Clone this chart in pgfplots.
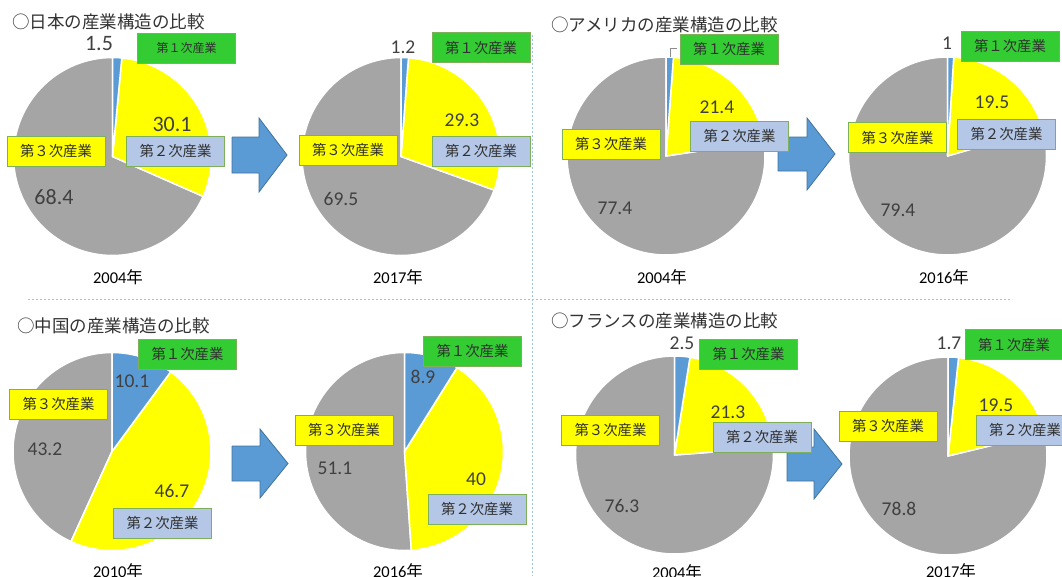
\documentclass[border=0pt]{standalone}
\usepackage{pgfplots}
\pgfplotsset{compat=1.18}
\usepackage{fontspec}
\setmainfont{Carlito}
\newfontfamily\jp{Noto Sans CJK JP}
\definecolor{slicegray}{HTML}{A5A5A5}
\definecolor{sliceyellow}{HTML}{FFFF00}
\definecolor{sliceblue}{HTML}{5B9BD5}
\definecolor{boxgreen}{HTML}{33CC33}
\definecolor{boxblue}{HTML}{B4C7E7}
\definecolor{boxborder}{HTML}{7EB05C}
\definecolor{arrowfill}{HTML}{5B9BD5}
\definecolor{arrowdraw}{HTML}{41719C}
\definecolor{sepline}{HTML}{9DC3E6}
\definecolor{valtext}{HTML}{404040}
\definecolor{labtext}{HTML}{303030}

% pie: center x, center y (pixels), primary, secondary, tertiary
\newcommand{\pie}[5]{%
  \pgfmathsetmacro\tot{#3+#4+#5}%
  \pgfmathsetmacro\aB{90-360*(#3/\tot)}%
  \pgfmathsetmacro\aC{\aB-360*(#4/\tot)}%
  \edef\doit{%
    \noexpand\addplot[fill=slicegray, draw=white, line width=1.5pt, line join=round, domain=-270:\aC, samples=90]
      ({#1+99*cos(x)},{#2-99*sin(x)}) -- (axis cs:#1,#2) -- cycle;
    \noexpand\addplot[fill=sliceyellow, draw=white, line width=1.5pt, line join=round, domain=\aC:\aB, samples=60]
      ({#1+99*cos(x)},{#2-99*sin(x)}) -- (axis cs:#1,#2) -- cycle;
    \noexpand\addplot[fill=sliceblue, draw=white, line width=1.5pt, line join=round, domain=\aB:90, samples=30]
      ({#1+99*cos(x)},{#2-99*sin(x)}) -- (axis cs:#1,#2) -- cycle;
  }\doit}

\tikzset{
  box/.style={draw=boxborder, line width=1pt, minimum width=98pt, minimum height=30pt,
    inner sep=0pt, text=labtext, font={\jp\fontsize{14.4}{16}\selectfont}},
  vlab/.style={inner sep=0pt, text=valtext, font={\fontsize{19.5}{22}\selectfont}},
  vlabbig/.style={inner sep=0pt, text=valtext, font={\fontsize{22}{24}\selectfont}},
  ttl/.style={inner sep=0pt, anchor=west, text=black!80, font={\jp\fontsize{17.5}{20}\selectfont}},
  yr/.style={inner sep=0pt, text=black, font={\fontsize{16.5}{18}\selectfont}},
}

\begin{document}
\begin{tikzpicture}
\useasboundingbox (0,0) rectangle (1062pt,576pt);
\begin{axis}[at={(0pt,576pt)}, anchor=north west, x=1pt, y=1pt,
  xmin=0, xmax=1062, ymin=0, ymax=576, y dir=reverse,
  hide axis, clip=false]

% separators
\addplot[draw=sepline, line width=0.8pt, dash pattern=on 2pt off 2pt] coordinates {(532,35) (532,576)};
\addplot[draw=sepline, line width=0.8pt, dash pattern=on 2pt off 2pt] coordinates {(28,299) (1012,299)};

% pies
\pie{112.5}{156.5}{1.5}{30.1}{68.4}
\pie{401}{156.5}{1.2}{29.3}{69.5}
\pie{666}{156}{1.2}{21.4}{77.4}
\pie{947.5}{156}{1}{19.5}{79.4}
\pie{112}{451.5}{10.1}{46.7}{43.2}
\pie{404.5}{451.5}{8.9}{40}{51.1}
\pie{674.5}{455}{2.5}{21.3}{76.3}
\pie{948}{456}{1.7}{19.5}{78.8}

% arrows
\addplot[fill=arrowfill, draw=arrowdraw, line width=0.8pt] coordinates {(232,137) (259,137) (259,118) (287,155) (259,192) (259,173) (232,173) (232,137)};
\addplot[fill=arrowfill, draw=arrowdraw, line width=0.8pt] coordinates {(778,137) (807,137) (807,118) (835,154) (807,190) (807,171) (778,171) (778,137)};
\addplot[fill=arrowfill, draw=arrowdraw, line width=0.8pt] coordinates {(232,446) (260,446) (260,429) (288,463.5) (260,498) (260,481) (232,481) (232,446)};
\addplot[fill=arrowfill, draw=arrowdraw, line width=0.8pt] coordinates {(787,447) (814,447) (814,429) (842,464) (814,499) (814,481) (787,481) (787,447)};

% leader line (USA 2004)
\addplot[draw=black!45, line width=0.8pt] coordinates {(670,57) (670,48) (677,48)};

% titles
\node[ttl] at (axis cs:12,22) {○日本の産業構造の比較};
\node[ttl] at (axis cs:551,25) {○アメリカの産業構造の比較};
\node[ttl] at (axis cs:17,326) {○中国の産業構造の比較};
\node[ttl] at (axis cs:551,321) {○フランスの産業構造の比較};

% Japan 2004
\node[box, fill=boxgreen, font={\jp\fontsize{12}{14}\selectfont}] at (axis cs:186.5,48) {第１次産業};
\node[box, fill=sliceyellow] at (axis cs:56,151) {第３次産業};
\node[box, fill=boxblue] at (axis cs:175.5,151) {第２次産業};
\node[vlabbig] at (axis cs:99,44) {1.5};
\node[vlabbig] at (axis cs:172,124) {30.1};
\node[vlabbig] at (axis cs:54,197) {68.4};
\node[yr] at (axis cs:118,277) {2004{\jp 年}};

% Japan 2017
\node[box, fill=boxgreen] at (axis cs:481,47.5) {第１次産業};
\node[box, fill=sliceyellow] at (axis cs:348,150) {第３次産業};
\node[box, fill=boxblue] at (axis cs:481,151) {第２次産業};
\node[vlab] at (axis cs:403,47) {1.2};
\node[vlab] at (axis cs:462,120) {29.3};
\node[vlab] at (axis cs:341,199) {69.5};
\node[yr] at (axis cs:398,277) {2017{\jp 年}};

% USA 2004
\node[box, fill=boxgreen] at (axis cs:729,49) {第１次産業};
\node[box, fill=sliceyellow] at (axis cs:611,144) {第３次産業};
\node[box, fill=boxblue] at (axis cs:739.5,136) {第２次産業};
\node[vlab] at (axis cs:717,107) {21.4};
\node[vlab] at (axis cs:615,208) {77.4};
\node[yr] at (axis cs:662,277) {2004{\jp 年}};

% USA 2016
\node[box, fill=boxgreen] at (axis cs:1010,46) {第１次産業};
\node[box, fill=sliceyellow] at (axis cs:897.5,137.5) {第３次産業};
\node[box, fill=boxblue] at (axis cs:1006.5,134) {第２次産業};
\node[vlab] at (axis cs:947,43) {1};
\node[vlab] at (axis cs:992,102) {19.5};
\node[vlab] at (axis cs:898,210) {79.4};
\node[yr] at (axis cs:944,277) {2016{\jp 年}};

% China 2010
\node[box, fill=boxgreen] at (axis cs:187.5,354) {第１次産業};
\node[box, fill=sliceyellow] at (axis cs:58.5,404) {第３次産業};
\node[box, fill=boxblue] at (axis cs:162.5,523) {第２次産業};
\node[vlab] at (axis cs:132,381) {10.1};
\node[vlab] at (axis cs:45,449) {43.2};
\node[vlab] at (axis cs:172,491) {46.7};
\node[yr] at (axis cs:118,571) {2010{\jp 年}};

% China 2016
\node[box, fill=boxgreen] at (axis cs:472.5,351) {第１次産業};
\node[box, fill=sliceyellow] at (axis cs:344,430) {第３次産業};
\node[box, fill=boxblue] at (axis cs:477,509) {第２次産業};
\node[vlab] at (axis cs:423,377) {8.9};
\node[vlab] at (axis cs:335,468) {51.1};
\node[vlab] at (axis cs:476,479) {40};
\node[yr] at (axis cs:398,571) {2016{\jp 年}};

% France 2004
\node[box, fill=boxgreen] at (axis cs:748.5,354) {第１次産業};
\node[box, fill=sliceyellow] at (axis cs:610.5,430) {第３次産業};
\node[box, fill=boxblue] at (axis cs:762,437) {第２次産業};
\node[vlab] at (axis cs:682,343) {2.5};
\node[vlab] at (axis cs:728,412) {21.3};
\node[vlab] at (axis cs:622,506) {76.3};
\node[yr] at (axis cs:677,572) {2004{\jp 年}};

% France 2017
\node[box, fill=boxgreen] at (axis cs:1014,344.5) {第１次産業};
\node[box, fill=sliceyellow] at (axis cs:888,426) {第３次産業};
\node[box, fill=boxblue] at (axis cs:1025,430) {第２次産業};
\node[vlab] at (axis cs:949,343) {1.7};
\node[vlab] at (axis cs:996,405) {19.5};
\node[vlab] at (axis cs:899,509) {78.8};
\node[yr] at (axis cs:951,571) {2017{\jp 年}};

\end{axis}
\end{tikzpicture}
\end{document}
